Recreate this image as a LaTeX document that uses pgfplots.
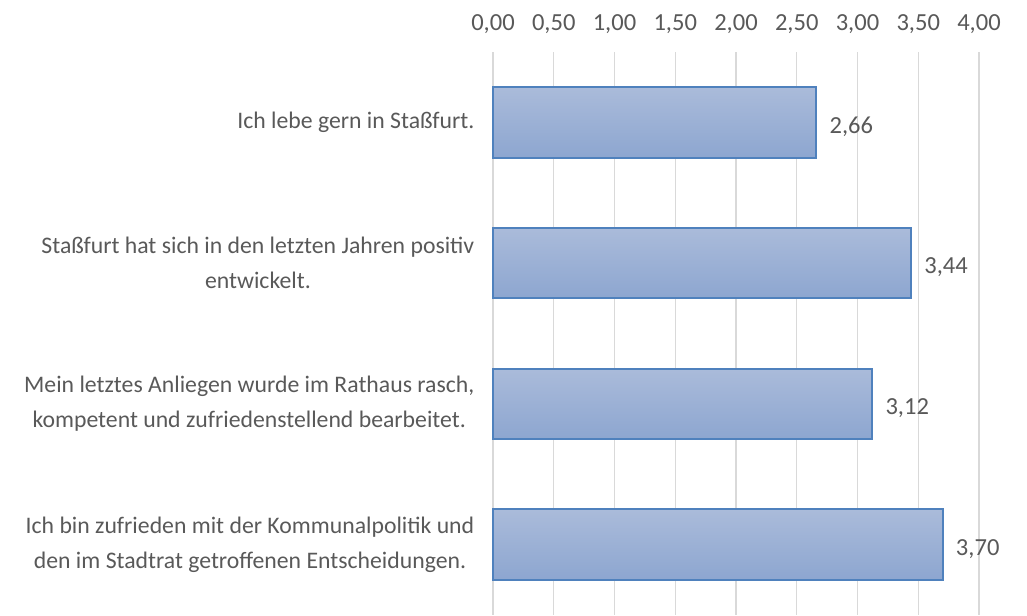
\documentclass[border=0pt]{standalone}
\usepackage{pgfplots}
\pgfplotsset{compat=1.18}
\usepackage{fontspec}
\setmainfont{Carlito}
\definecolor{txt}{RGB}{89,89,89}
\definecolor{gridc}{RGB}{217,217,217}
\definecolor{barborder}{RGB}{79,129,189}
\definecolor{bartop}{RGB}{170,187,218}
\definecolor{barbot}{RGB}{141,166,208}
\begin{document}
\begin{tikzpicture}
\useasboundingbox (-369.75pt,0pt) rectangle (400.5pt,461.25pt);
\begin{axis}[
  at={(0,0)}, anchor=south west,
  scale only axis, width=364.5pt, height=422.25pt,
  xbar, bar width=0.5, bar shift=0pt,
  xmin=0, xmax=4, ymin=-0.5, ymax=3.5,
  y dir=reverse,
  axis x line*=top,
  axis line style={draw=none},
  major tick length=0pt,
  xtick={0,0.5,...,4},
  xmajorgrids, major grid style={gridc, line width=1pt},
  ytick={0,1,2,3},
  yticklabels={{Ich lebe gern in Staßfurt.},
    {Staßfurt hat sich in den letzten Jahren positiv\\entwickelt.},
    {Mein letztes Anliegen wurde im Rathaus rasch,\\kompetent und zufriedenstellend bearbeitet.},
    {Ich bin zufrieden mit der Kommunalpolitik und\\den im Stadtrat getroffenen Entscheidungen.}},
  yticklabel style={align=center, font=\fontsize{17.8}{26.5}\selectfont, text=txt, xshift=-10.5pt},
  xticklabel style={font=\fontsize{18.4}{20}\selectfont, text=txt, yshift=10pt},
  /pgf/number format/assume math mode=true,
  xticklabel={\pgfmathprintnumber[fixed,fixed zerofill,precision=2,use comma,assume math mode=true]{\tick}},
  nodes near coords={\pgfmathprintnumber[fixed,fixed zerofill,precision=2,use comma,assume math mode=true]{\pgfplotspointmeta}},
  nodes near coords style={font=\fontsize{18.4}{20}\selectfont, text=txt, anchor=west, xshift=6pt, yshift=-3pt},
  clip=false,
  barstyle/.style={draw=barborder, line width=1.5pt, top color=bartop, bottom color=barbot},
]
\addplot[barstyle] coordinates {(2.66,0)};
\addplot[barstyle] coordinates {(3.44,1)};
\addplot[barstyle] coordinates {(3.12,2)};
\addplot[barstyle] coordinates {(3.70,3)};
\end{axis}
\end{tikzpicture}
\end{document}
